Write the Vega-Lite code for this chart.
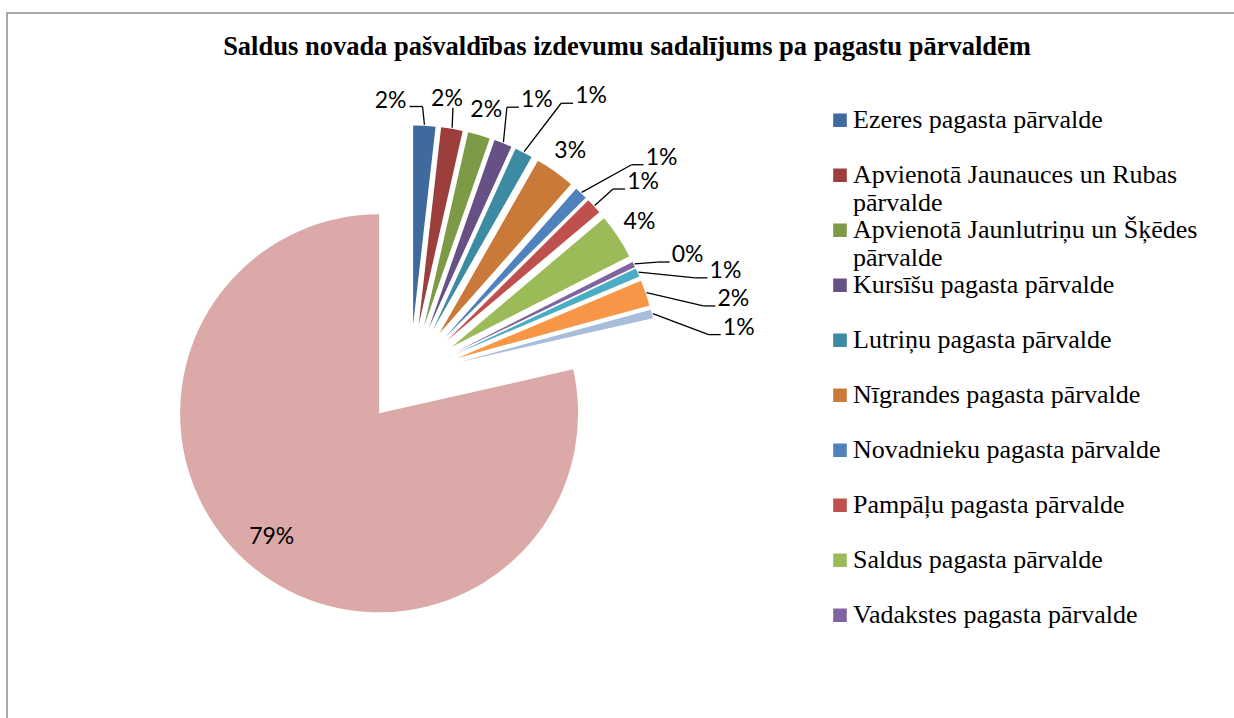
{
  "$schema": "https://vega.github.io/schema/vega-lite/v6.json",
  "width": 1240,
  "height": 725,
  "autosize": "none",
  "padding": {"left": 7, "top": 13, "right": -13, "bottom": -20},
  "background": "white",
  "params": [
    {"name": "cx", "value": 403.3},
    {"name": "cy", "value": 361.3},
    {"name": "dExp", "value": 50},
    {"name": "pieR", "value": 199}
  ],
  "title": {
    "text": "Saldus novada pašvaldības izdevumu sadalījums pa pagastu pārvaldēm",
    "font": "Liberation Serif",
    "fontSize": 26.5,
    "fontWeight": "bold",
    "color": "black",
    "anchor": "middle",
    "frame": "group",
    "offset": -47
  },
  "config": {
    "view": {"stroke": "#8c8c8c", "strokeWidth": 1.5},
    "legend": {"labelFont": "Liberation Serif", "labelFontSize": 26, "labelColor": "black"},
    "rule": {"color": "black", "strokeWidth": 1.3}
  },
  "data": {
    "values": [
      {"name": "Ezeres pagasta pārvalde", "share": 1.8},
      {"name": "Apvienotā Jaunauces un Rubas pārvalde", "share": 1.75},
      {"name": "Apvienotā Jaunlutriņu un Šķēdes pārvalde", "share": 1.8},
      {"name": "Kursīšu pagasta pārvalde", "share": 1.45},
      {"name": "Lutriņu pagasta pārvalde", "share": 1.45},
      {"name": "Nīgrandes pagasta pārvalde", "share": 3.25},
      {"name": "Novadnieku pagasta pārvalde", "share": 1.05},
      {"name": "Pampāļu pagasta pārvalde", "share": 1.3},
      {"name": "Saldus pagasta pārvalde", "share": 3.65},
      {"name": "Vadakstes pagasta pārvalde", "share": 0.45},
      {"name": "Zaņas pagasta pārvalde", "share": 0.7},
      {"name": "Zirņu pagasta pārvalde", "share": 2.1},
      {"name": "Zvārdes pagasta pārvalde", "share": 0.7},
      {"name": "Saldus pilsēta", "share": 78.55}
    ]
  },
  "transform": [
    {"window": [{"op": "sum", "field": "share", "as": "cum"}], "frame": [null, 0]},
    {"joinaggregate": [{"op": "sum", "field": "share", "as": "total"}]},
    {"calculate": "2*PI*(datum.cum - datum.share)/datum.total", "as": "t0"},
    {"calculate": "2*PI*datum.cum/datum.total", "as": "t1"},
    {"calculate": "(datum.t0 + datum.t1)/2", "as": "tm"},
    {"calculate": "datum.share/datum.total", "as": "frac"},
    {"calculate": "cx + dExp*sin(datum.tm)", "as": "vx"},
    {"calculate": "cy - dExp*cos(datum.tm)", "as": "vy"}
  ],
  "layer": [
    {
      "mark": {"type": "arc", "radius": 199},
      "encoding": {
        "x": {"field": "vx", "type": "quantitative", "scale": null, "stack": null},
        "y": {"field": "vy", "type": "quantitative", "scale": null, "stack": null},
        "theta": {"field": "t0", "type": "quantitative", "scale": null, "stack": null},
        "theta2": {"field": "t1"},
        "color": {
          "field": "name",
          "type": "nominal",
          "scale": {
            "domain": ["Ezeres pagasta pārvalde", "Apvienotā Jaunauces un Rubas pārvalde", "Apvienotā Jaunlutriņu un Šķēdes pārvalde", "Kursīšu pagasta pārvalde", "Lutriņu pagasta pārvalde", "Nīgrandes pagasta pārvalde", "Novadnieku pagasta pārvalde", "Pampāļu pagasta pārvalde", "Saldus pagasta pārvalde", "Vadakstes pagasta pārvalde", "Zaņas pagasta pārvalde", "Zirņu pagasta pārvalde", "Zvārdes pagasta pārvalde", "Saldus pilsēta"],
            "range": ["#3F6A9D", "#9C3F3C", "#7D9A47", "#665084", "#3C8BA2", "#CA7A38", "#4F81BD", "#C0504D", "#9BBB59", "#8064A2", "#4BACC6", "#F79646", "#A8BCDB", "#DBA9A8"]
          },
          "legend": {
            "title": null,
            "orient": "none",
            "legendX": 820,
            "legendY": 94.1,
            "padding": 0,
            "values": ["Ezeres pagasta pārvalde", "Apvienotā Jaunauces un Rubas pārvalde", "Apvienotā Jaunlutriņu un Šķēdes pārvalde", "Kursīšu pagasta pārvalde", "Lutriņu pagasta pārvalde", "Nīgrandes pagasta pārvalde", "Novadnieku pagasta pārvalde", "Pampāļu pagasta pārvalde", "Saldus pagasta pārvalde", "Vadakstes pagasta pārvalde"],
            "symbolType": "square",
            "symbolSize": 185,
            "symbolStrokeWidth": 0,
            "labelFont": "Liberation Serif",
            "labelFontSize": 26,
            "labelColor": "black",
            "labelLimit": 600,
            "labelOffset": 0,
            "labelBaseline": "middle",
            "rowPadding": 0,
            "gridAlign": "all",
            "clipHeight": 26.4,
            "labelExpr": "datum.label == 'Apvienotā Jaunauces un Rubas pārvalde' ? ['Apvienotā Jaunauces un Rubas', 'pārvalde'] : datum.label == 'Apvienotā Jaunlutriņu un Šķēdes pārvalde' ? ['Apvienotā Jaunlutriņu un Šķēdes', 'pārvalde'] : datum.label"
          }
        }
      }
    },
    {
      "transform": [
        {"filter": {"field": "name", "oneOf": ["Apvienotā Jaunlutriņu un Šķēdes pārvalde", "Nīgrandes pagasta pārvalde", "Saldus pagasta pārvalde"]}},
        {"calculate": "datum.vx + 225*sin(datum.tm)", "as": "lx"},
        {"calculate": "datum.vy - 225*cos(datum.tm)", "as": "ly"}
      ],
      "mark": {"type": "text", "font": "Lato", "fontSize": 23, "color": "black", "align": "center", "baseline": "middle"},
      "encoding": {
        "x": {"field": "lx", "type": "quantitative", "scale": null},
        "y": {"field": "ly", "type": "quantitative", "scale": null},
        "text": {"field": "frac", "type": "quantitative", "format": ".0%"}
      }
    },
    {
      "transform": [
        {"filter": {"field": "name", "oneOf": ["Saldus pilsēta"]}},
        {"calculate": "datum.tm + 2.3*PI/180", "as": "la"},
        {"calculate": "datum.vx + 164*sin(datum.la)", "as": "lx"},
        {"calculate": "datum.vy - 164*cos(datum.la)", "as": "ly"}
      ],
      "mark": {"type": "text", "font": "Lato", "fontSize": 23, "color": "black", "align": "center", "baseline": "middle"},
      "encoding": {
        "x": {"field": "lx", "type": "quantitative", "scale": null},
        "y": {"field": "ly", "type": "quantitative", "scale": null},
        "text": {"field": "frac", "type": "quantitative", "format": ".0%"}
      }
    },
    {
      "transform": [
        {"filter": {"field": "name", "oneOf": ["Apvienotā Jaunauces un Rubas pārvalde"]}},
        {"calculate": "datum.tm - 2.5*PI/180", "as": "la"},
        {"calculate": "datum.vx + 228*sin(datum.la)", "as": "lx"},
        {"calculate": "datum.vy - 228*cos(datum.la)", "as": "ly"},
        {"calculate": "datum.vx + (pieR + 1)*sin(datum.tm)", "as": "sx"},
        {"calculate": "datum.vy - (pieR + 1)*cos(datum.tm)", "as": "sy"},
        {"calculate": "datum.lx + 6", "as": "ax"},
        {"calculate": "datum.ly + 9", "as": "ay"},
        {"calculate": "datum.ax", "as": "bx"}
      ],
      "layer": [
        {"mark": {"type": "rule"}, "encoding": {"x": {"field": "sx", "type": "quantitative", "scale": null}, "y": {"field": "sy", "type": "quantitative", "scale": null}, "x2": {"field": "bx"}, "y2": {"field": "ay"}}},
        {"mark": {"type": "text", "font": "Lato", "fontSize": 23, "color": "black", "align": "center", "baseline": "middle"}, "encoding": {"x": {"field": "lx", "type": "quantitative", "scale": null}, "y": {"field": "ly", "type": "quantitative", "scale": null}, "text": {"field": "frac", "type": "quantitative", "format": ".0%"}}}
      ]
    },
    {
      "transform": [
        {"filter": {"field": "name", "oneOf": ["Ezeres pagasta pārvalde"]}},
        {"calculate": "datum.tm - 9*PI/180", "as": "la"},
        {"calculate": "datum.vx + 225*sin(datum.la)", "as": "lx"},
        {"calculate": "datum.vy - 225*cos(datum.la)", "as": "ly"},
        {"calculate": "datum.vx + (pieR + 1)*sin(datum.tm)", "as": "sx"},
        {"calculate": "datum.vy - (pieR + 1)*cos(datum.tm)", "as": "sy"},
        {"calculate": "datum.lx + 19", "as": "ax"},
        {"calculate": "datum.ly + 6", "as": "ay"},
        {"calculate": "datum.ax + 13", "as": "bx"}
      ],
      "layer": [
        {"mark": {"type": "rule"}, "encoding": {"x": {"field": "sx", "type": "quantitative", "scale": null}, "y": {"field": "sy", "type": "quantitative", "scale": null}, "x2": {"field": "bx"}, "y2": {"field": "ay"}}},
        {"mark": {"type": "rule"}, "encoding": {"x": {"field": "bx", "type": "quantitative", "scale": null}, "y": {"field": "ay", "type": "quantitative", "scale": null}, "x2": {"field": "ax"}, "y2": {"field": "ay"}}},
        {"mark": {"type": "text", "font": "Lato", "fontSize": 23, "color": "black", "align": "center", "baseline": "middle"}, "encoding": {"x": {"field": "lx", "type": "quantitative", "scale": null}, "y": {"field": "ly", "type": "quantitative", "scale": null}, "text": {"field": "frac", "type": "quantitative", "format": ".0%"}}}
      ]
    },
    {
      "transform": [
        {"filter": {"field": "name", "oneOf": ["Kursīšu pagasta pārvalde", "Pampāļu pagasta pārvalde", "Vadakstes pagasta pārvalde"]}},
        {"calculate": "datum.tm + 3.5*PI/180", "as": "la"},
        {"calculate": "datum.vx + 252*sin(datum.la)", "as": "lx"},
        {"calculate": "datum.vy - 252*cos(datum.la)", "as": "ly"},
        {"calculate": "datum.vx + (pieR + 1)*sin(datum.tm)", "as": "sx"},
        {"calculate": "datum.vy - (pieR + 1)*cos(datum.tm)", "as": "sy"},
        {"calculate": "datum.lx - 18", "as": "ax"},
        {"calculate": "datum.ly + 7", "as": "ay"},
        {"calculate": "datum.ax - 12", "as": "bx"}
      ],
      "layer": [
        {"mark": {"type": "rule"}, "encoding": {"x": {"field": "sx", "type": "quantitative", "scale": null}, "y": {"field": "sy", "type": "quantitative", "scale": null}, "x2": {"field": "bx"}, "y2": {"field": "ay"}}},
        {"mark": {"type": "rule"}, "encoding": {"x": {"field": "bx", "type": "quantitative", "scale": null}, "y": {"field": "ay", "type": "quantitative", "scale": null}, "x2": {"field": "ax"}, "y2": {"field": "ay"}}},
        {"mark": {"type": "text", "font": "Lato", "fontSize": 23, "color": "black", "align": "center", "baseline": "middle"}, "encoding": {"x": {"field": "lx", "type": "quantitative", "scale": null}, "y": {"field": "ly", "type": "quantitative", "scale": null}, "text": {"field": "frac", "type": "quantitative", "format": ".0%"}}}
      ]
    },
    {
      "transform": [
        {"filter": {"field": "name", "oneOf": ["Lutriņu pagasta pārvalde", "Novadnieku pagasta pārvalde", "Zaņas pagasta pārvalde", "Zirņu pagasta pārvalde", "Zvārdes pagasta pārvalde"]}},
        {"calculate": "datum.tm + 7*PI/180", "as": "la"},
        {"calculate": "datum.vx + 282*sin(datum.la)", "as": "lx"},
        {"calculate": "datum.vy - 282*cos(datum.la)", "as": "ly"},
        {"calculate": "datum.vx + (pieR + 1)*sin(datum.tm)", "as": "sx"},
        {"calculate": "datum.vy - (pieR + 1)*cos(datum.tm)", "as": "sy"},
        {"calculate": "datum.lx - 18", "as": "ax"},
        {"calculate": "datum.ly + 7", "as": "ay"},
        {"calculate": "datum.ax - 12", "as": "bx"}
      ],
      "layer": [
        {"mark": {"type": "rule"}, "encoding": {"x": {"field": "sx", "type": "quantitative", "scale": null}, "y": {"field": "sy", "type": "quantitative", "scale": null}, "x2": {"field": "bx"}, "y2": {"field": "ay"}}},
        {"mark": {"type": "rule"}, "encoding": {"x": {"field": "bx", "type": "quantitative", "scale": null}, "y": {"field": "ay", "type": "quantitative", "scale": null}, "x2": {"field": "ax"}, "y2": {"field": "ay"}}},
        {"mark": {"type": "text", "font": "Lato", "fontSize": 23, "color": "black", "align": "center", "baseline": "middle"}, "encoding": {"x": {"field": "lx", "type": "quantitative", "scale": null}, "y": {"field": "ly", "type": "quantitative", "scale": null}, "text": {"field": "frac", "type": "quantitative", "format": ".0%"}}}
      ]
    }
  ]
}
